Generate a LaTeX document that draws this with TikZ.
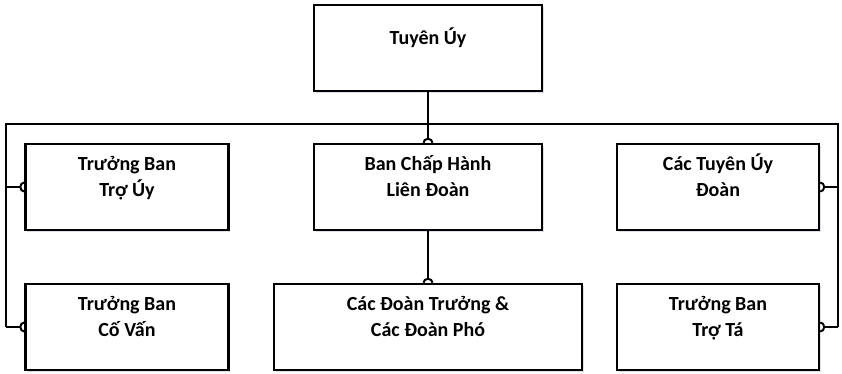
\documentclass[tikz,border=0pt]{standalone}
\usepackage{fontspec}
\setmainfont{Carlito}
\usepackage{tikz}
\usetikzlibrary{arrows.meta, shadows}

\newcommand{\uptext}[1]{\raisebox{9pt}[\height][\depth]{\begin{tabular}{@{}c@{}}#1\end{tabular}}}

\tikzset{
	unit/.style={draw=black, line width=2.4pt, fill=white, inner sep=0pt,
		minimum height=86pt, font=\bfseries\fontsize{20}{26}\selectfont,
		drop shadow={shadow xshift=1.5pt, shadow yshift=-2pt, fill=blue!25!gray, opacity=0.2}},
	wire/.style={line width=2.2pt, black},
	dome/.style={-{Arc Barb[reversed, arc=180, length=5pt, width=11pt, line width=2pt]}}
}

\begin{document}
\begin{tikzpicture}[x=1pt, y=-1pt]
			\useasboundingbox (0,0) rectangle (842,374);
			
			\node [unit, minimum width=228pt] (tuyenuy) at (428,48) {\uptext{Tuyên Úy}};
			
			\node [unit, minimum width=203pt] (trotuy) at (127,187) {\uptext{Trưởng Ban\\Trợ Úy}};
			\node [unit, minimum width=228pt] (bch) at (428,187) {\uptext{Ban Chấp Hành\\Liên Đoàn}};
			\node [unit, minimum width=202pt] (tuyendoan) at (718,187) {\uptext{Các Tuyên Úy\\Đoàn}};
			
			\node [unit, minimum width=203pt] (covan) at (127,327) {\uptext{Trưởng Ban\\Cố Vấn}};
			\node [unit, minimum width=308pt] (doantruong) at (428,327) {\uptext{Các Đoàn Trưởng \&\\Các Đoàn Phó}};
			\node [unit, minimum width=202pt] (trota) at (718,327) {\uptext{Trưởng Ban\\Trợ Tá}};
			
			\coordinate (busL) at (6,124);
			\coordinate (busR) at (838,124);
			
			\begin{scope}[wire]
				\draw (tuyenuy.south) -- (tuyenuy.south |- busL);
				\draw (busL |- covan.west) -- (busL) -- (busR) -- (busR |- trota.east);
				
				\draw [dome] (bch.north |- busL) -- (bch.north);
				\draw [dome] (bch.south) -- (doantruong.north);
				
				\foreach \n in {trotuy, covan}
				{
					\draw [dome] (busL |- \n.west) -- (\n.west);
				}
				\foreach \n in {tuyendoan, trota}
				{
					\draw [dome] (busR |- \n.east) -- (\n.east);
				}
			\end{scope}
\end{tikzpicture}
\end{document}
